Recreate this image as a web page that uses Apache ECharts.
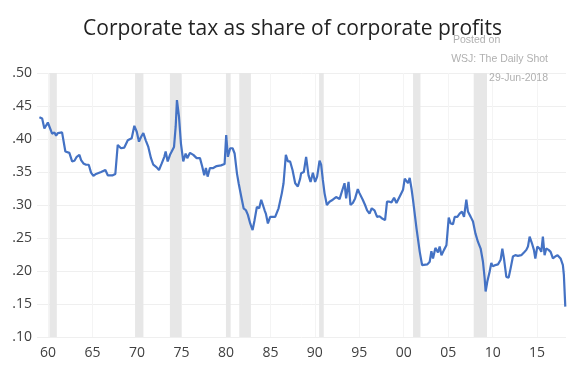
<!DOCTYPE html>
<html>
<head>
<meta charset="utf-8">
<script src="https://cdn.jsdelivr.net/npm/echarts@6/dist/echarts.min.js"></script>
<style>
  html, body { margin: 0; padding: 0; background: #fff; }
  #chart { width: 585px; height: 375px; }
</style>
</head>
<body>
<div id="chart"></div>
<script>
// roughly quarterly
const years = [
  1959.02, 1959.33, 1959.58, 1959.97, 1960.45, 1960.71, 1960.90, 1961.09, 1961.57, 1961.94,
  1962.39, 1962.70, 1962.96, 1963.22, 1963.52, 1963.71, 1963.97, 1964.27, 1964.57, 1964.83,
  1965.09, 1965.39, 1965.96, 1966.44, 1966.71, 1967.27, 1967.56, 1967.83, 1968.20, 1968.57,
  1968.96, 1969.40, 1969.70, 1969.97, 1970.22, 1970.45, 1970.71, 1970.98, 1971.27, 1971.57,
  1971.83, 1972.21, 1972.47, 1972.78, 1973.07, 1973.22, 1973.45, 1973.71, 1973.90, 1974.16,
  1974.35, 1974.49, 1974.72, 1974.94, 1975.20, 1975.47, 1975.65, 1975.96, 1976.33, 1976.71,
  1977.08, 1977.34, 1977.56, 1977.75, 1977.94, 1978.20, 1978.57, 1978.96, 1979.18, 1979.44,
  1979.85, 1980.03, 1980.22, 1980.48, 1980.75, 1980.98, 1981.24, 1981.43, 1981.72, 1981.99,
  1982.25, 1982.47, 1982.73, 1983.00, 1983.22, 1983.48, 1983.74, 1983.97, 1984.16, 1984.35,
  1984.49, 1984.72, 1984.98, 1985.17, 1985.54, 1985.92, 1986.29, 1986.48, 1986.74, 1986.97,
  1987.22, 1987.49, 1987.79, 1988.09, 1988.35, 1988.46, 1988.76, 1989.02, 1989.29, 1989.52,
  1989.78, 1990.03, 1990.26, 1990.53, 1990.71, 1990.90, 1991.09, 1991.35, 1991.65, 1992.02,
  1992.39, 1992.78, 1993.15, 1993.34, 1993.52, 1993.79, 1994.01, 1994.27, 1994.53, 1994.83,
  1995.02, 1995.39, 1995.65, 1995.88, 1996.15, 1996.40, 1996.71, 1997.00, 1997.27, 1997.53,
  1997.75, 1997.90, 1998.12, 1998.39, 1998.62, 1998.91, 1999.18, 1999.36, 1999.66, 1999.92,
  2000.11, 2000.30, 2000.48, 2000.67, 2000.87, 2001.04, 2001.43, 2001.80, 2002.06, 2002.28,
  2002.66, 2002.92, 2003.11, 2003.29, 2003.56, 2003.85, 2004.04, 2004.24, 2004.53, 2004.80,
  2005.06, 2005.28, 2005.54, 2005.73, 2006.03, 2006.29, 2006.55, 2006.78, 2007.04, 2007.22,
  2007.53, 2007.79, 2008.06, 2008.35, 2008.65, 2008.91, 2009.10, 2009.21, 2009.40, 2009.66,
  2009.85, 2010.03, 2010.30, 2010.60, 2010.90, 2011.09, 2011.27, 2011.54, 2011.80, 2012.02,
  2012.28, 2012.55, 2012.84, 2013.22, 2013.52, 2013.79, 2013.97, 2014.16, 2014.42, 2014.64,
  2014.80, 2015.02, 2015.28, 2015.47, 2015.65, 2015.84, 2016.03, 2016.29, 2016.52, 2016.78,
  2017.04, 2017.30, 2017.64, 2017.90, 2018.01, 2018.17
];
const taxShare = [
  .433, .431, .416, .425, .408, .410, .405, .409, .410, .381,
  .379, .366, .367, .373, .376, .368, .363, .361, .361, .349,
  .344, .347, .350, .353, .345, .345, .347, .391, .386, .387,
  .398, .401, .420, .411, .396, .403, .409, .398, .388, .371,
  .361, .357, .353, .363, .373, .381, .366, .376, .381, .388,
  .419, .459, .434, .393, .366, .378, .371, .379, .376, .371,
  .371, .358, .345, .356, .343, .356, .356, .359, .359, .360,
  .362, .406, .373, .386, .386, .378, .348, .333, .313, .295,
  .292, .285, .272, .262, .277, .297, .295, .308, .305, .292,
  .287, .272, .282, .280, .282, .295, .318, .333, .376, .366,
  .366, .353, .333, .328, .340, .348, .350, .373, .345, .335,
  .349, .335, .343, .367, .361, .338, .318, .300, .305, .308,
  .312, .309, .325, .333, .310, .335, .300, .303, .310, .324,
  .318, .308, .300, .292, .287, .295, .292, .282, .283, .280,
  .283, .277, .305, .305, .304, .311, .303, .303, .316, .323,
  .340, .341, .333, .341, .325, .308, .265, .229, .209, .209,
  .210, .214, .230, .219, .235, .228, .237, .224, .232, .239,
  .281, .272, .271, .282, .282, .287, .290, .282, .308, .290,
  .282, .275, .257, .244, .234, .214, .189, .169, .184, .199,
  .212, .207, .209, .210, .217, .234, .219, .191, .190, .204,
  .222, .224, .223, .224, .228, .232, .237, .252, .242, .232,
  .219, .237, .234, .229, .252, .224, .234, .232, .229, .219,
  .222, .224, .219, .209, .194, .146
];
// recession shading (start, end)
const recessions = [
  [1960.15, 1960.98], [1969.78, 1970.72], [1973.70, 1975.00], [1980.00, 1980.53],
  [1981.50, 1982.81], [1990.48, 1991.00], [2001.05, 2001.88], [2007.87, 2009.36]
];
const xTicks = [1960, 1965, 1970, 1975, 1980, 1985, 1990, 1995, 2000, 2005, 2010, 2015];
const noteLines = ['Posted on', 'WSJ: The Daily Shot', '29-Jun-2018'];

const chart = echarts.init(document.getElementById('chart'));
const font = '"Open Sans", sans-serif';
const noteFont = '10.5px "Liberation Sans", Arial, sans-serif';

chart.setOption({
  animation: false,
  backgroundColor: '#fff',
  title: {
    text: 'Corporate tax as share of corporate profits',
    left: 'center',
    top: 14,
    textStyle: { fontFamily: font, fontSize: 21, fontWeight: 'normal', color: '#222' },
  },
  graphic: [
    // "Posted on" sits left-aligned with the second line, the rest right-aligned
    { type: 'text', left: 453, top: 35, z: 10, style: { text: noteLines[0], fill: '#b0b0b0', font: noteFont } },
    { type: 'text', right: 37, top: 54, z: 10, style: { text: noteLines[1], fill: '#b0b0b0', font: noteFont } },
    { type: 'text', right: 37, top: 73, z: 10, style: { text: noteLines[2], fill: '#b0b0b0', font: noteFont } },
  ],
  grid: { left: 37, right: 19, top: 73, bottom: 38 },
  xAxis: {
    type: 'value',
    min: 1958.75,
    max: 2018.25,
    axisLine: { show: false },
    axisTick: { show: false, customValues: xTicks },
    axisLabel: {
      customValues: xTicks,
      margin: 9,
      color: '#404040',
      fontFamily: font,
      fontSize: 14,
      formatter: (v) => String(Math.round(v) % 100).padStart(2, '0'),
    },
    splitLine: { show: true, lineStyle: { color: '#f4f4f4', width: 1 } },
  },
  yAxis: {
    type: 'value',
    min: 0.10,
    max: 0.50,
    interval: 0.05,
    axisLine: { show: false },
    axisTick: { show: false },
    axisLabel: {
      margin: 5,
      color: '#404040',
      fontFamily: font,
      fontSize: 14,
      formatter: (v) => v.toFixed(2).replace(/^0/, ''),
    },
    splitLine: { lineStyle: { color: '#efefef', width: 1 } },
  },
  series: [
    {
      type: 'line',
      data: years.map((y, i) => [y, taxShare[i]]),
      showSymbol: false,
      lineStyle: { color: '#4472c4', width: 2.2 },
      z: 3,
      markArea: {
        silent: true,
        itemStyle: { color: '#e7e7e7' },
        data: recessions.map(([a, b]) => [{ xAxis: a }, { xAxis: b }]),
      },
    },
  ],
});
</script>
</body>
</html>
